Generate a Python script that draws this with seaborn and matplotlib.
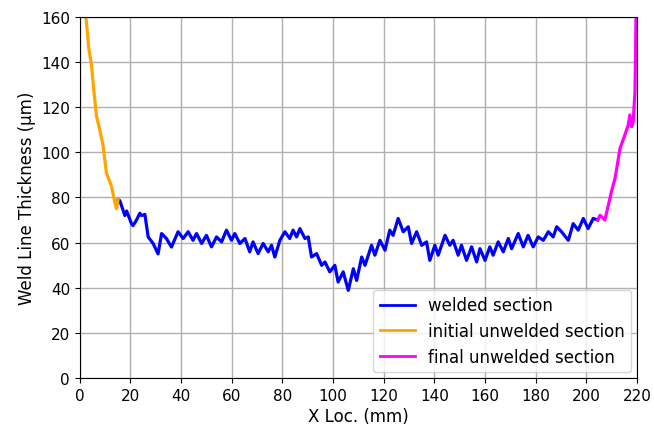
import pandas as pd
import seaborn as sns
import matplotlib.pyplot as plt

# values
initial_x = [2.4, 2.6, 3.6, 4.6, 5.5, 6.6, 7.9, 9.2, 10.5, 11.5, 12.5, 13.8, 14.5, 15.1]
initial_y = [160, 158, 145.8, 139, 128, 116, 110, 103, 91, 88, 85, 78, 75, 79]

welded_x = [15.1, 15.8, 17.8, 18.5, 20.4, 21.0, 22.4, 23.7, 24.4, 25.7, 27.0, 29.0, 30.9,
            32.3, 34.2, 36.2, 38.8, 40.8, 42.8, 44.7, 46.1, 48.1, 50.0, 52.0, 54.0, 56.0,
            57.9, 59.9, 61.2, 63.2, 65.2, 67.1, 68.4, 70.4, 72.4, 74.4, 75.7, 77.0, 79.0,
            81.0, 82.9, 84.2, 85.6, 86.9, 88.9, 90.2, 91.5, 93.5, 95.5, 96.8, 98.7, 100.7,
            102.0, 104.0, 106.0, 108.0, 109.3, 111.3, 112.6, 115.2, 116.5, 118.5, 120.5,
            122.4, 123.7, 125.7, 127.7, 129.7, 131.0, 133.0, 135.0, 136.9, 138.2, 140.2,
            141.5, 144.2, 146.1, 147.4, 149.4, 150.7, 152.7, 154.7, 156.7, 158.0, 160.0,
            161.9, 163.2, 165.2, 167.2, 169.2, 170.5, 173.1, 175.1, 177.0, 179.0, 181.0,
            183.0, 185.0, 186.9, 188.3, 190.2, 192.9, 194.8, 196.8, 198.8, 200.7, 202.7, 204.5]
welded_y = [79, 78.6, 72, 74, 68.4, 67.5, 70, 73, 72, 72.5, 62.5, 59.5, 55,
            64, 61.8, 58, 64.8, 61.8, 64.8, 61, 64, 59.6, 63.2, 58.1, 62.5, 60.3,
            65.5, 61, 64, 59.6, 61.8, 55.9, 60.3, 55.1, 59.6, 55.9, 58.8, 53.6, 61,
            64.8, 61.8, 65.5, 62.5, 66.2, 61.8, 62.5, 53.6, 55.1, 49.9, 51.4, 47, 49.9,
            42.5, 47, 38.8, 48.4, 43.2, 53.6, 49.9, 58.8, 54.4, 61, 56.6,
            65.5, 63.2, 70.7, 64.8, 67, 59.6, 64.8, 58.8, 60.3, 52.1, 58.8,
            54.4, 63.2, 58.8, 61, 54.4, 58.8, 52.1, 58.1, 51.4, 57.3, 52.1,
            58.1, 54.4, 60.3, 55.9, 61.8, 57.3, 64, 58.1, 63.2, 58.1, 62.5,
            61, 64.8, 62.5, 67, 64.8, 61, 68.4, 65.5, 70.7, 66.2, 70.7, 70]

final_x = [204.5, 205.4, 207.3, 208.7, 210.0, 211.3, 212.0, 213.3, 215.2, 216.5, 217.2,
           217.9, 218.5, 219.2, 219.6, 219.7]
final_y = [70, 72.1, 70, 76.6, 83, 88.4, 92.9, 101.8, 107.7, 112, 116.6,
           111.4, 113.6, 127, 158.8, 160]

sections = ['welded section', 'initial unwelded section', 'final unwelded section']
colors = ['#0000ff', '#ffa500', '#ff00ff']

df = pd.concat([
    pd.DataFrame({'x': welded_x, 'y': welded_y, 'section': sections[0]}),
    pd.DataFrame({'x': initial_x, 'y': initial_y, 'section': sections[1]}),
    pd.DataFrame({'x': final_x, 'y': final_y, 'section': sections[2]}),
], ignore_index=True)

fig = plt.figure(figsize=(6.54, 4.31), dpi=100)
ax = fig.add_axes([0.122, 0.121, 0.852, 0.837])

sns.lineplot(data=df, x='x', y='y', hue='section', hue_order=sections,
             palette=dict(zip(sections, colors)), sort=False, estimator=None,
             linewidth=2.3, ax=ax)

ax.set_xlim(0, 220)
ax.set_ylim(0, 160)
ax.set_xticks(range(0, 221, 20))
ax.set_yticks(range(0, 161, 20))
ax.tick_params(labelsize=11)
ax.grid(True, color='#b0b0b0', linewidth=1)
ax.set_axisbelow(True)
ax.set_xlabel('X Loc. (mm)', fontsize=12, labelpad=3)
ax.set_ylabel('Weld Line Thickness (\u00b5m)', fontsize=12)
leg = ax.legend(title=None, loc='lower right', fontsize=12, handlelength=2.1,
                handletextpad=0.8, labelspacing=0.46, borderaxespad=0.33)
for line in leg.get_lines():
    line.set_linewidth(2)

fig.savefig('out.png', dpi=100)
plt.close()
